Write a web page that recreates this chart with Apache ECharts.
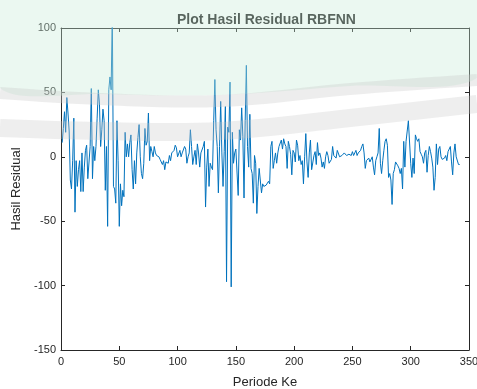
<!DOCTYPE html>
<html>
<head>
<meta charset="utf-8">
<script src="https://cdn.jsdelivr.net/npm/echarts@6/dist/echarts.min.js"></script>
<style>html,body{margin:0;padding:0;background:#fff;overflow:hidden}#c{width:477px;height:389px}</style>
</head>
<body>
<div id="c"></div>
<script>
// ---- data (period 1..N) ----
var titleText = "Plot Hasil Residual RBFNN";
var xName = "Periode Ke";
var yName = "Hasil Residual";
var xTicks = [0, 50, 100, 150, 200, 250, 300, 350];
var yTicks = [-150, -100, -50, 0, 50, 100];

var residuals1 = [
 11,22,35,19,46,34,20,-18,-25,-3,
 30,-43,-3,-23,-10,-3,-27,3,-27,-8,
 5,9,-17,-16,8,53,-17,8,-3,8,
 30,52,41,8,21,37,28,-26,8,-54,
 52,62,52,112,-23,-25,-36,28,-3,-54,
 -21,-38,-26,-31,19,0,10,0,11,17,
 -10,-25,-3,-21,3,15,25,0,-13,-17,
 -5,22,9,12,34,-3,8,4,0,8,
 3,1,2,0,-2,-3,-6,-3,-10,-4,
 -3,-5,1,-3,3,4,5,9,7
];
var residuals2 = [
 0,0,5,0,3,4,8,6,-5,0,
 3,21,8,-6,0,5,-6,10,3,-8,
 3,3,8,12,-39,-8,6,-23,-5,-8,
 -10,28,60,21,8,-28,8,43,3,-23,
 4,39,-97,23,19,58,-101,19,-5,3,
 6,5,-30,21,13,38,16,-32,28,71,
 8,-8,33,-9,-13,-36,1,-5,-44,-23,
 -9,-9,-28,-21,-23,-22,-22,-21,-19,-21,
 8,12,-9,-3,3,-5,3,8,9
];
var residuals3 = [
 13,6,14,10,8,-9,12,8,2,-14,
 5,3,-4,13,9,-3,1,-6,-3,-21,
 0,18,-4,-16,3,13,-10,-9,1,4,
 -6,11,1,3,-1,-8,-4,-9,0,4,
 1,-5,-5,-2,8,1,0,-1,5,6,
 0,-1,1,1,3,4,1,0,2,1,
 1,4,1,3,5,1,3,4,5,8,
 10,3,-9,-3,-2,-1,-4,-3,0,-8,
 -14,-3,0,3,22,-5,-13,-3,5,12,
 14,9,-16,-13,-18,-37,-13,-10,-4,-5,
 -7,-9,-13,-9,-25,12,-8,12,20,28,
 27,-5,-16,-1,-13,17,14,12,14,4,
 2,0,-5,3,5,-12,1,8,4,-1,
 -8,-26,-16,10,-6,6,8,0,-2,-3,
 -1,1,-3,4,3,8,-4,-14,3,10,
 0,1,-6,-6
];
var residuals = residuals1.concat(residuals2, residuals3);
var seriesData = residuals.map(function (v, i) { return [i + 1, v]; });

var font = "'Liberation Sans', Arial, Helvetica, sans-serif";
var axisCol = '#262626';
var chart = echarts.init(document.getElementById('c'), null, {renderer: 'canvas'});

function baseAxis(extra) {
  return Object.assign({
    axisLine: {show: true, onZero: false, lineStyle: {color: axisCol, width: 1}},
    axisTick: {show: true, inside: true, length: 4, lineStyle: {color: axisCol}},
    splitLine: {show: false}
  }, extra);
}

chart.setOption({
  animation: false,
  backgroundColor: '#ffffff',
  title: {
    text: titleText,
    left: 172, top: 8,
    textStyle: {fontFamily: font, fontSize: 14, fontWeight: 'bold', color: '#1a1a1a'}
  },
  grid: {left: 61, right: 8, top: 28, bottom: 39, containLabel: false, outerBoundsMode: 'none'},
  xAxis: [
    baseAxis({
      type: 'value', min: xTicks[0], max: xTicks[xTicks.length - 1], interval: 50,
      position: 'bottom',
      name: xName, nameLocation: 'middle', nameGap: 26,
      nameTextStyle: {fontFamily: font, fontSize: 13, color: axisCol},
      axisLabel: {fontFamily: font, fontSize: 11, color: axisCol, margin: 6, showMaxLabel: true}
    }),
    baseAxis({
      type: 'value', min: xTicks[0], max: xTicks[xTicks.length - 1], interval: 50,
      position: 'top', axisLabel: {show: false}
    })
  ],
  yAxis: [
    baseAxis({
      type: 'value', min: yTicks[0], max: yTicks[yTicks.length - 1], interval: 50,
      position: 'left',
      name: yName, nameLocation: 'middle', nameGap: 36,
      nameTextStyle: {fontFamily: font, fontSize: 13, color: axisCol},
      axisLabel: {fontFamily: font, fontSize: 11, color: axisCol, margin: 5}
    }),
    baseAxis({
      type: 'value', min: yTicks[0], max: yTicks[yTicks.length - 1], interval: 50,
      position: 'right', axisLabel: {show: false}
    })
  ],
  series: [{
    type: 'line',
    data: seriesData,
    xAxisIndex: 0, yAxisIndex: 0,
    showSymbol: false, symbol: 'none',
    clip: true,
    lineStyle: {color: '#0072BD', width: 1},
    z: 2
  }],
  graphic: [
    {
      type: 'polygon', silent: true, z: 100,
      shape: {points: [[0,0],[477,0],[477,78],[350,86],[220,95],[100,94],[0,88]], smooth: 0.3},
      style: {fill: 'rgba(200,235,215,0.36)'}
    },
    {
      type: 'polyline', silent: true, z: 101,
      shape: {points: [[0,93],[100,99],[220,101],[350,89],[477,80]], smooth: 0.4},
      style: {stroke: 'rgba(200,200,200,0.33)', lineWidth: 12, fill: null}
    },
    {
      type: 'polyline', silent: true, z: 101,
      shape: {points: [[0,128],[100,131],[220,131],[350,118],[477,104]], smooth: 0.4},
      style: {stroke: 'rgba(200,200,200,0.30)', lineWidth: 18, fill: null}
    }
  ]
});
</script>
</body>
</html>
